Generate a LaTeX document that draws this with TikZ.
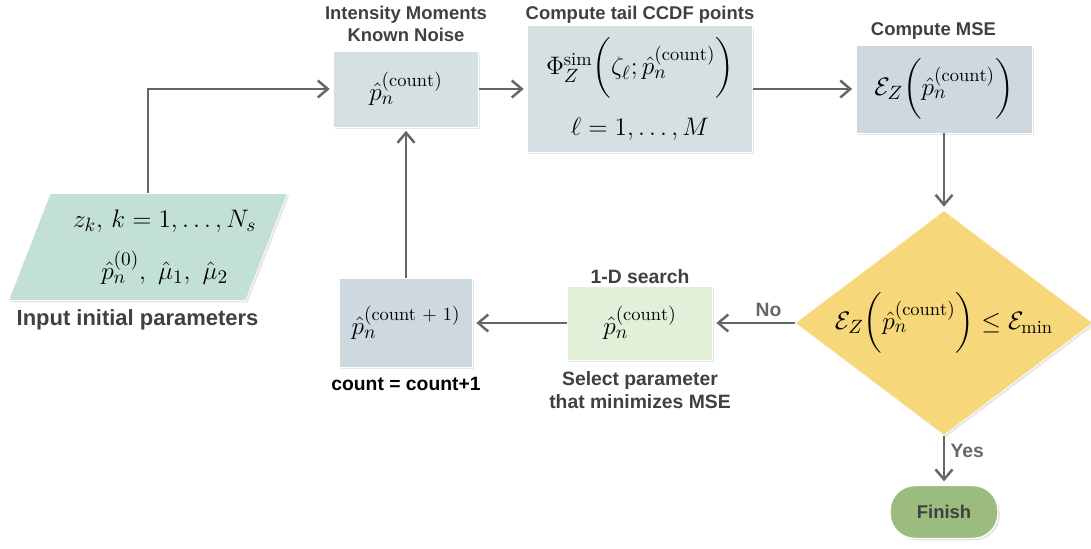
\documentclass[tikz,border=0pt]{standalone}
\usepackage{fontspec}
\setsansfont{Liberation Sans}
\usepackage{amsmath}
\usetikzlibrary{shapes.geometric, arrows.meta, positioning, shadows}
\definecolor{inputteal}{HTML}{C3E0D8}
\definecolor{boxgray}{HTML}{D5E0E3}
\definecolor{boxdark}{HTML}{CDD9DF}
\definecolor{searchgreen}{HTML}{E2EFD9}
\definecolor{condyellow}{HTML}{F6D779}
\definecolor{finishgreen}{HTML}{9CBB7F}
\definecolor{linegray}{HTML}{666666}
\definecolor{labelgray}{HTML}{404040}
\tikzset{block/.style={rectangle,fill=boxgray,draw=white,thin,inner sep=4pt,font=\fontsize{15}{18}\selectfont,
                       drop shadow={opacity=0.2,shadow xshift=1pt,shadow yshift=-1pt}},
         searchblock/.style={block,fill=searchgreen},
         inputbox/.style={trapezium,trapezium left angle=63,trapezium right angle=117,trapezium stretches body,
                          fill=inputteal,draw=white,thin,inner xsep=-12.5pt,inner ysep=2pt,align=center,
                          font=\fontsize{15}{18}\selectfont,
                          drop shadow={opacity=0.2,shadow xshift=1pt,shadow yshift=-1pt}},
         decision/.style={diamond,fill=condyellow,draw=white,thin,inner sep=0pt,
                          drop shadow={opacity=0.2,shadow xshift=1pt,shadow yshift=-1pt}},
         terminal/.style={rectangle,rounded corners=0.5cm,fill=finishgreen,draw=white,thick,
                          font=\sffamily\bfseries\fontsize{10.5}{12}\selectfont,text=labelgray,
                          drop shadow={opacity=0.25,shadow xshift=1pt,shadow yshift=-1pt}},
         caption/.style={font=\sffamily\bfseries\fontsize{10.5}{12.5}\selectfont,text=labelgray,align=center,inner sep=1pt},
         arrow/.style={-{Straight Barb[length=2mm,width=3.4mm]},line width=1.4pt,draw=linegray,shorten >=2pt},
         line/.style={line width=1.4pt,draw=linegray}}

\begin{document}
\begin{tikzpicture}[x=0.02cm,y=-0.02cm]
    \useasboundingbox (0,0) rectangle (1091,548);
    % top row
    \node (mom) [block, minimum width=2.9cm, minimum height=1.52cm] at (406,89) {$\hat{p}_n^{(\mathrm{count})}$};
    \node (tail) [block, minimum width=4.5cm, minimum height=2.54cm, align=center] at (640,89)
        {$\Phi_Z^{\mathrm{sim}}\biggl(\zeta_\ell;\hat{p}_n^{(\mathrm{count})}\biggr)$\\[10pt]$\ell=1,\ldots,M$};
    \node (mse) [block, fill=boxdark, minimum width=3.52cm, minimum height=1.76cm] at (944,89)
        {$\mathcal{E}_Z\biggl(\hat{p}_n^{(\mathrm{count})}\biggr)$};
    % input
    \node (in) [inputbox, minimum width=5.58cm, minimum height=2.14cm] at (148,247)
        {\hspace*{19pt}$z_k,\,k=1,\ldots,N_s$\\[10pt]\hspace*{19pt}$\hat{p}_n^{(0)},\ \hat{\mu}_1,\ \hat{\mu}_2$};
    % decision and loop row
    \node (cond) [decision, minimum width=5.96cm, minimum height=4.5cm,
        label={[font=\fontsize{15}{18}\selectfont]center:$\mathcal{E}_Z\biggl(\hat{p}_n^{(\mathrm{count})}\biggr)\le\mathcal{E}_{\min}$}] at (944,323) {};
    \node (search) [searchblock, minimum width=2.9cm, minimum height=1.48cm] at (640,323) {$\hat{p}_n^{(\mathrm{count})}$};
    \node (upd) [block, fill=boxdark, minimum width=2.66cm, minimum height=1.78cm] at (406,323)
        {$\hat{p}_n^{(\text{count + 1})}$};
    \node (fin) [terminal, minimum width=2.16cm, minimum height=1.06cm] at (944,512) {Finish};
    % captions
    \node (momcap) [caption, above=4pt of mom] {Intensity Moments\\Known Noise};
    \node (tailcap) [caption, above=0pt of tail] {Compute tail CCDF points};
    \node (msecap) [caption, above=2pt of mse, xshift=-6pt] {Compute MSE};
    \node (incap) [caption, below=4pt of in, xshift=-6pt, font=\sffamily\bfseries\fontsize{12.5}{15}\selectfont] {Input initial parameters};
    \node (searchcap) [caption, above=0pt of search, font=\sffamily\bfseries\fontsize{11}{13}\selectfont] {1-D search};
    \node (selcap) [caption, below=5pt of search, font=\sffamily\bfseries\fontsize{11}{13}\selectfont] {Select parameter\\that minimizes MSE};
    \node (updcap) [caption, below=4pt of upd, text=black, font=\sffamily\bfseries\fontsize{11}{13}\selectfont] {count = count+1};
    % connectors
    \draw[arrow] (in.north) |- (mom.west);
    \draw[arrow] (mom) -- (tail);
    \draw[arrow] (tail) -- (mse);
    \draw[arrow] (mse) -- (cond);
    \draw[arrow] (cond) -- node[pos=0.32, above=2pt, caption, font=\sffamily\bfseries\fontsize{11}{13}\selectfont, text=linegray] {No} (search);
    \draw[arrow] (search) -- (upd);
    \draw[arrow] (upd) -- (mom);
    \draw[arrow] (cond) -- node[pos=0.3, right=2pt, caption, font=\sffamily\bfseries\fontsize{11}{13}\selectfont, text=linegray] {Yes} (fin);
\end{tikzpicture}
\end{document}
